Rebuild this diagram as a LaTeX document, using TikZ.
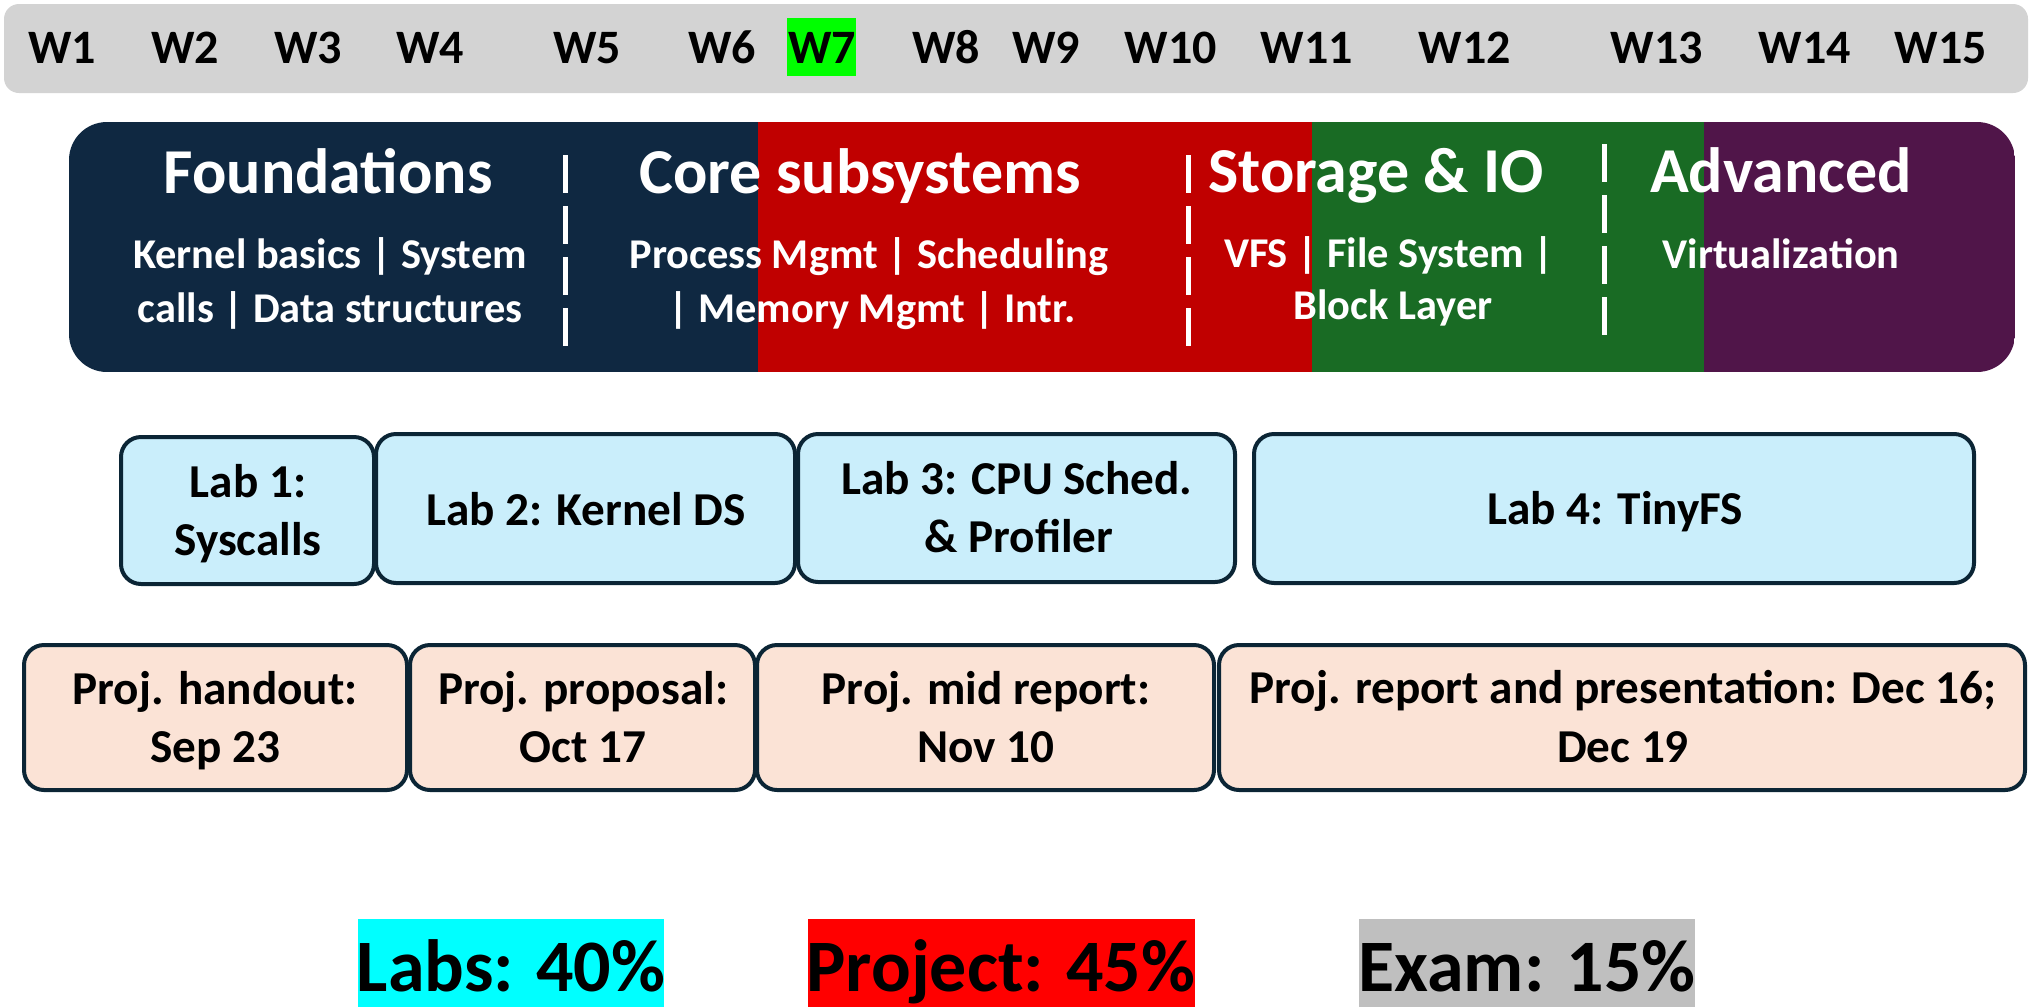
\documentclass[tikz,border=0pt]{standalone}
\usepackage{fontspec}
\setmainfont{Carlito}
\usetikzlibrary{fit}

\definecolor{barGray}{HTML}{D3D3D3}
\definecolor{nowGreen}{HTML}{00FF00}
\definecolor{phaseNavy}{HTML}{0F2841}
\definecolor{phaseRed}{HTML}{C00000}
\definecolor{phaseGreen}{HTML}{196B24}
\definecolor{phasePurple}{HTML}{501549}
\definecolor{boxEdge}{HTML}{0B2535}
\definecolor{labFill}{HTML}{CAEEFB}
\definecolor{projFill}{HTML}{FBE3D6}
\definecolor{keyCyan}{HTML}{00FFFF}
\definecolor{keyRed}{HTML}{FF0000}
\definecolor{keyGray}{HTML}{BFBFBF}

\begin{document}
\begin{tikzpicture}[x=0.5pt, y=-0.5pt,
  area/.style={inner sep=0pt, outer sep=0pt},
  wk/.style={anchor=base, inner sep=0pt, font=\fontsize{24}{28}\selectfont\bfseries},
  phasetitle/.style={anchor=base, inner sep=0pt, text=white, font=\fontsize{32}{37}\selectfont\bfseries},
  phasetopic/.style={anchor=base, inner sep=0pt, text=white, font=\fontsize{21.2}{25}\selectfont\bfseries},
  separator/.style={white, line width=2.5pt, dash pattern=on 19pt off 6.5pt},
  card/.style={area, draw=boxEdge, line width=2pt, rounded corners=10pt},
  labcard/.style={card, fill=labFill},
  projcard/.style={card, fill=projFill},
  cardtext/.style={anchor=base, inner sep=0pt, font=\fontsize{23.6}{28}\selectfont\bfseries},
  keytext/.style={anchor=base, inner sep=0pt, font=\fontsize{37}{44}\selectfont\bfseries}]
\useasboundingbox (0,0) rectangle (2032,1007);

% week ruler
\node[area, fill=barGray, rounded corners=7.5pt, fit={(4,4)(2028,93)}] (weekbar) {};
\node[area, fill=nowGreen, fit={(787,18)(856,76)}] (nowmark) {};
\foreach \n/\x in {1/62,2/185,3/308,4/430,5/587,6/722,7/822,8/946,
                   9/1046,10/1171,11/1307,12/1465,13/1657,14/1805,15/1941}
  \node[wk] (w\n) at (\x,63) {W\n};

% course phases band
\begin{scope}
  \clip[rounded corners=19pt] (69,122) rectangle (2015,372);
  \fill[phaseNavy]   (69,122)   rectangle (758,372);
  \fill[phaseRed]    (758,122)  rectangle (1312,372);
  \fill[phaseGreen]  (1312,122) rectangle (1704,372);
  \fill[phasePurple] (1704,122) rectangle (2015,372);
\end{scope}
\coordinate (s1t) at (565,155);  \coordinate (s1b) at (565,347);
\coordinate (s2t) at (1188,155); \coordinate (s2b) at (1188,347);
\coordinate (s3t) at (1604,144); \coordinate (s3b) at (1604,337);
\draw[separator] (s1t) -- (s1b);
\draw[separator] (s2t) -- (s2b);
\draw[separator] (s3t) -- (s3b);

\node[phasetitle] (ph1) at (328,193)  {Foundations};
\node[phasetitle] (ph2) at (860,193)  {Core subsystems};
\node[phasetitle] (ph3) at (1376,192) {Storage \& IO};
\node[phasetitle] (ph4) at (1781,192) {Advanced};

\node[phasetopic] (ph1a) at (330,268)  {Kernel basics | System};
\node[phasetopic] (ph1b) at (330,322)  {calls | Data structures};
\node[phasetopic] (ph2a) at (869,268)  {Process Mgmt | Scheduling};
\node[phasetopic] (ph2b) at (872,322)  {| Memory Mgmt | Intr.};
\node[phasetopic] (ph3a) at (1389,267) {VFS | File System |};
\node[phasetopic] (ph3b) at (1393,319) {Block Layer};
\node[phasetopic] (ph4a) at (1781,268) {Virtualization};

% labs
\node[labcard, fit={(121,437)(374,584)}]  (lab1) {};
\node[labcard, fit={(376,434)(795,583)}]  (lab2) {};
\node[labcard, fit={(798,434)(1235,582)}] (lab3) {};
\node[labcard, fit={(1254,434)(1974,583)}] (lab4) {};
\node[cardtext] (lab1a) at (248,497)  {Lab 1:};
\node[cardtext] (lab1b) at (248,555)  {Syscalls};
\node[cardtext] (lab2a) at (586,525)  {Lab 2: Kernel DS};
\node[cardtext] (lab3a) at (1017,494) {Lab 3: CPU Sched.};
\node[cardtext] (lab3b) at (1019,552) {\& Profiler};
\node[cardtext] (lab4a) at (1615,524) {Lab 4: TinyFS};

% project milestones
\node[projcard, fit={(24,645)(407,790)}]   (pj1) {};
\node[projcard, fit={(410,645)(755,790)}]  (pj2) {};
\node[projcard, fit={(757,645)(1214,790)}] (pj3) {};
\node[projcard, fit={(1219,645)(2025,790)}] (pj4) {};
\node[cardtext] (pj1a) at (215,704)  {Proj. handout:};
\node[cardtext] (pj1b) at (215,762)  {Sep 23};
\node[cardtext] (pj2a) at (583,704)  {Proj. proposal:};
\node[cardtext] (pj2b) at (583,762)  {Oct 17};
\node[cardtext] (pj3a) at (986,704)  {Proj. mid report:};
\node[cardtext] (pj3b) at (986,762)  {Nov 10};
\node[cardtext] (pj4a) at (1623,703) {Proj. report and presentation: Dec 16;};
\node[cardtext] (pj4b) at (1623,762) {Dec 19};

% grading weights
\node[area, fill=keyCyan, fit={(358,919)(664,1007)}]  (keylabs) {};
\node[area, fill=keyRed,  fit={(808,919)(1195,1007)}] (keyproj) {};
\node[area, fill=keyGray, fit={(1359,919)(1695,1007)}] (keyexam) {};
\node[keytext] (keylabst) at (511,991)  {Labs: 40\%};
\node[keytext] (keyprojt) at (1001,991) {Project: 45\%};
\node[keytext] (keyexamt) at (1527,991) {Exam: 15\%};
\end{tikzpicture}
\end{document}
